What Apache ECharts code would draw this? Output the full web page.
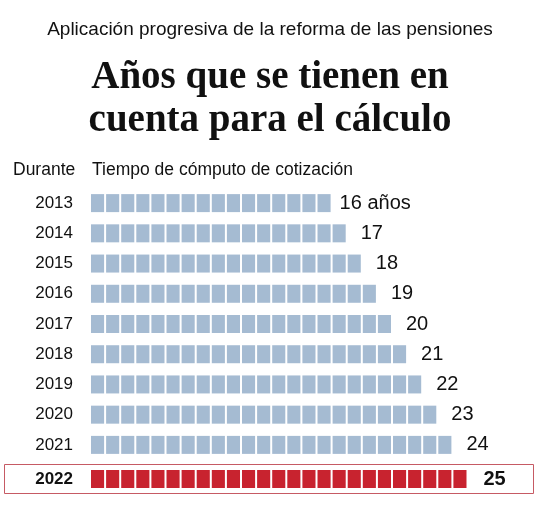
<!DOCTYPE html>
<html lang="es">
<head>
    <meta charset="UTF-8">
    <title>Años que se tienen en cuenta para el cálculo</title>
    <script src="https://cdn.jsdelivr.net/npm/echarts@6/dist/echarts.min.js"></script>
    <style>
        html, body {margin: 0; padding: 0; background: #fff;}
        #chart {width: 540px; height: 512px;}
    </style>
</head>
<body>
<div id="chart"></div>
<script>
    // datos
    var years = ['2013', '2014', '2015', '2016', '2017', '2018', '2019', '2020', '2021'];
    var yearsCount = [16, 17, 18, 19, 20, 21, 22, 23, 24];
    var lastYear = ['2022'];
    var lastCount = [25];

    var blue = '#a5bbd2';
    var red = '#c8232f';
    var sans = 'Liberation Sans, Arial, sans-serif';

    var myChart = echarts.init(document.getElementById('chart'));

    // cada año = un cuadrito; 1 unidad del eje = 15.1px (13.1 + 1 + 1)
    var blockStyle = {
        type: 'pictorialBar',
        symbol: 'rect',
        symbolSize: [13.1, 18],
        symbolRepeat: true,
        symbolMargin: '1!',
        symbolPosition: 'start',
        animation: false
    };

    // el primer valor lleva "años" y queda algo más pegado a la barra
    var blueData = yearsCount.map(function(v, i) {
        return i === 0 ? {value: v, label: {distance: 8}} : v;
    });

    var option = {
        backgroundColor: '#fff',
        title: [{
            text: 'Aplicación progresiva de la reforma de las pensiones',
            left: 'center',
            top: 20,
            padding: 0,
            textStyle: {fontFamily: sans, fontSize: 19, fontWeight: 'normal', color: '#111'}
        }, {
            text: 'Años que se tienen en\ncuenta para el cálculo',
            left: 'center',
            top: 56,
            padding: 0,
            textStyle: {fontFamily: 'Liberation Serif, serif', fontSize: 39, fontWeight: 'bold', lineHeight: 43, color: '#111'}
        }, {
            text: 'Durante',
            left: 13,
            top: 161,
            padding: 0,
            textStyle: {fontFamily: sans, fontSize: 17.5, fontWeight: 'normal', color: '#111'}
        }, {
            text: 'Tiempo de cómputo de cotización',
            left: 92,
            top: 161,
            padding: 0,
            textStyle: {fontFamily: sans, fontSize: 17.5, fontWeight: 'normal', color: '#111'}
        }],
        graphic: [{
            type: 'rect',
            shape: {x: 4.5, y: 464.5, width: 529, height: 29},
            style: {fill: 'none', stroke: '#c65a64', lineWidth: 1},
            z: 0
        }],
        grid: [
            {left: 90, right: 27.2, top: 188, height: 272},
            {left: 90, right: 27.2, top: 464, height: 30}
        ],
        xAxis: [
            {gridIndex: 0, type: 'value', min: 0, max: 28, show: false},
            {gridIndex: 1, type: 'value', min: 0, max: 28, show: false}
        ],
        yAxis: [{
            gridIndex: 0,
            type: 'category',
            inverse: true,
            data: years,
            axisLine: {show: false},
            axisTick: {show: false},
            axisLabel: {margin: 17, fontFamily: sans, fontSize: 17, color: '#111'}
        }, {
            gridIndex: 1,
            type: 'category',
            data: lastYear,
            axisLine: {show: false},
            axisTick: {show: false},
            axisLabel: {margin: 17, fontFamily: sans, fontSize: 17, fontWeight: 'bold', color: '#111'}
        }],
        series: [
            Object.assign({}, blockStyle, {
                xAxisIndex: 0,
                yAxisIndex: 0,
                itemStyle: {color: blue},
                label: {
                    show: true,
                    position: 'right',
                    distance: 14,
                    fontFamily: sans,
                    fontSize: 20,
                    color: '#111',
                    formatter: function(p) {
                        return p.dataIndex === 0 ? p.value + ' años' : p.value;
                    }
                },
                data: blueData
            }),
            Object.assign({}, blockStyle, {
                xAxisIndex: 1,
                yAxisIndex: 1,
                itemStyle: {color: red},
                label: {
                    show: true,
                    position: 'right',
                    distance: 16,
                    fontFamily: sans,
                    fontSize: 20,
                    fontWeight: 'bold',
                    color: '#111'
                },
                data: lastCount
            })
        ]
    };
    myChart.setOption(option);
</script>
</body>
</html>
